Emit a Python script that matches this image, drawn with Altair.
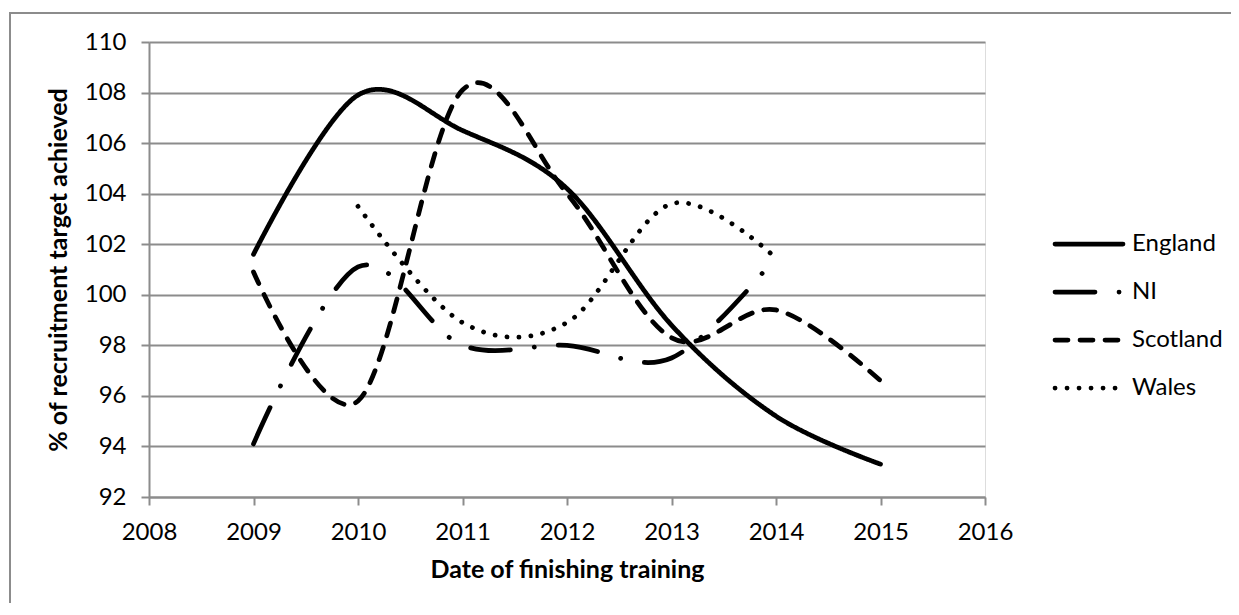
import altair as alt
import pandas as pd

# ---- data ----
series_names = ["England", "NI", "Scotland", "Wales"]

years_england = [2009, 2010, 2011, 2012, 2013, 2014, 2015]
england = [101.6, 107.9, 106.5, 104.2, 98.8, 95.2, 93.3]

years_ni = [2009, 2010, 2011, 2012, 2013, 2014]
ni = [94.1, 101.1, 98.0, 98.0, 97.5, 101.5]

years_scotland = [2009, 2010, 2011, 2012, 2013, 2014, 2015]
scotland = [100.9, 95.8, 108.1, 104.0, 98.3, 99.4, 96.6]

years_wales = [2010, 2011, 2012, 2013, 2014]
wales = [103.5, 98.9, 98.9, 103.6, 101.45]

x_ticks = list(range(2008, 2017))
y_ticks = list(range(92, 111, 2))

x_title = "Date of finishing training"
y_title = "% of recruitment target achieved"

# ---- tables built from the arrays ----
rows = []
for name, yrs, vals in [("England", years_england, england),
                        ("NI", years_ni, ni),
                        ("Scotland", years_scotland, scotland),
                        ("Wales", years_wales, wales)]:
    for yr, v in zip(yrs, vals):
        rows.append({"year": yr, "value": v, "series": name})
df = pd.DataFrame(rows)
legend_df = pd.DataFrame({"series": series_names})
frame_df = pd.DataFrame({"f": [0]})

# ---- styles ----
FONT = "Lato"
GRID = "#8c8c8c"
LW = 4.75
LABEL_FS = 24
TITLE_FS = 25
dash_scale = alt.Scale(
    domain=series_names,
    range=[[1, 0], [40, 24, 0.1, 24], [13, 12], [0.1, 11.9]],
)

x_enc = alt.X(
    "year:Q",
    scale=alt.Scale(domain=[2008, 2016], nice=False, zero=False),
    axis=alt.Axis(
        values=x_ticks, format="d", grid=False, title=x_title,
        tickSize=8, tickColor=GRID, tickWidth=2, domainColor=GRID, domainWidth=2,
        labelFont=FONT, labelFontSize=LABEL_FS, labelColor="black", labelPadding=15,
        titleFont=FONT, titleFontSize=TITLE_FS, titleFontWeight="bold", titleColor="black",
        titlePadding=13, labelFlush=False,
    ),
)
y_enc = alt.Y(
    "value:Q",
    scale=alt.Scale(domain=[92, 110], nice=False, zero=False),
    axis=alt.Axis(
        values=y_ticks, grid=True, gridColor=GRID, gridWidth=2, title=y_title,
        tickSize=8, tickColor=GRID, tickWidth=2, domainColor=GRID, domainWidth=2,
        labelFont=FONT, labelFontSize=LABEL_FS, labelColor="black", labelPadding=15,
        titleFont=FONT, titleFontSize=TITLE_FS, titleFontWeight="bold", titleColor="black",
        titlePadding=13, labelFlush=False,
    ),
)

lines = alt.Chart(df).mark_line(
    interpolate="cardinal", tension=0, strokeWidth=LW,
    strokeCap="round", strokeJoin="round", color="black",
).encode(
    x=x_enc, y=y_enc,
    strokeDash=alt.StrokeDash("series:N", scale=dash_scale, legend=None),
)

leg_y = alt.Y(
    "series:N", sort=series_names, axis=None,
    scale=alt.Scale(type="point", domain=series_names, range=[202, 346], padding=0),
)
leg_rules = alt.Chart(legend_df).mark_rule(
    strokeWidth=LW, strokeCap="round", color="black",
).encode(
    x=alt.value(906), x2=alt.value(974), y=leg_y,
    strokeDash=alt.StrokeDash("series:N", scale=dash_scale, legend=None),
)
leg_text = alt.Chart(legend_df).mark_text(
    align="left", baseline="middle", font=FONT, fontSize=LABEL_FS, color="black",
).encode(
    x=alt.value(983), y=leg_y, text="series:N",
)

frame = alt.Chart(frame_df).mark_rect(
    filled=False, color="#8c8c8c", strokeWidth=2,
).encode(
    x=alt.value(-139), x2=alt.value(1200), y=alt.value(-29), y2=alt.value(700),
)

legend_layer = alt.layer(leg_rules, leg_text)

chart = alt.layer(frame, lines, legend_layer).resolve_scale(
    y="independent"
).properties(
    width=836, height=455,
    autosize=alt.AutoSizeParams(type="none"),
    padding={"left": 141, "top": 34, "right": 246, "bottom": 106},
).configure_view(strokeWidth=0).configure(background="white")

chart.save("out.html", embed_options={"renderer": "svg", "actions": False})
